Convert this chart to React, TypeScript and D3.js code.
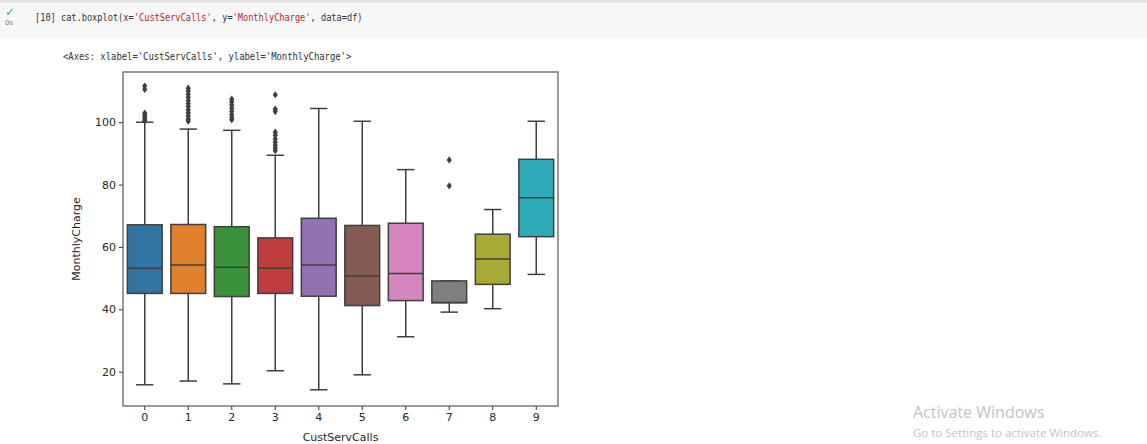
import React, { useRef, useEffect } from "react";
import * as d3 from "d3";

// one entry per CustServCalls group
const categories = ["0", "1", "2", "3", "4", "5", "6", "7", "8", "9"];
const q1 = [45.1, 45.1, 44.1, 45.1, 44.2, 41.2, 42.8, 42.1, 48.0, 63.3];
const medians = [53.2, 54.2, 53.5, 53.2, 54.2, 50.7, 51.5, 42.2, 56.1, 75.8];
const q3 = [67.1, 67.2, 66.5, 62.9, 69.2, 66.9, 67.6, 49.1, 64.1, 88.1];
const whiskLow = [15.8, 17.0, 16.1, 20.3, 14.2, 19.0, 31.2, 39.1, 40.2, 51.2];
const whiskHigh = [100.0, 97.8, 97.4, 89.4, 104.4, 100.3, 84.8, 49.1, 72.0, 100.3];
const outliers = [
  [111.6, 110.5, 102.9, 102.2, 101.6, 100.9, 100.4],
  [110.9, 110.0, 109.0, 108.0, 107.0, 106.0, 105.0, 104.0, 103.0, 102.0, 101.0, 100.3],
  [107.4, 106.5, 105.5, 104.5, 103.5, 102.5, 101.6, 100.8],
  [108.8, 104.2, 103.4, 96.8, 95.8, 94.6, 93.6, 92.6, 91.7, 90.9],
  [],
  [],
  [],
  [87.9, 79.6],
  [],
  [],
];
const yTicks = [20, 40, 60, 80, 100];
const palette = ["#3274a1", "#e1812c", "#3a923a", "#c03d3e", "#9372b2", "#845b53", "#d684bd", "#7f7f7f", "#a9aa35", "#2eabb8"];

const codeParts = [
  ["[10] cat.boxplot(x=", "#333"], ["'CustServCalls'", "#b22b31"], [", y=", "#333"],
  ["'MonthlyCharge'", "#b22b31"], [", data=df)", "#333"],
];
const reprLine = "<Axes: xlabel='CustServCalls', ylabel='MonthlyCharge'>";

const App = () => {
  const svgRef = useRef(null);

  useEffect(() => {
    document.body.style.margin = "0";
    const svg = d3.select(svgRef.current);
    svg.selectChildren().remove();

    const left = 123, right = 558, top = 72, bottom = 406;
    const line = "#3f3f3f";

    // notebook cell chrome
    svg.append("rect").attr("x", 0).attr("y", 0).attr("width", 1147).attr("height", 3).attr("fill", "#e4e4e4");
    svg.append("rect").attr("x", 0).attr("y", 3).attr("width", 1147).attr("height", 36).attr("fill", "#f7f7f7");
    svg.append("text").attr("x", 5).attr("y", 16).attr("font-size", 12).attr("fill", "#4caf50")
      .attr("font-family", "DejaVu Sans").text("✓");
    svg.append("text").attr("x", 5).attr("y", 25).attr("font-size", 7).attr("fill", "#777")
      .attr("font-family", "DejaVu Sans").text("0s");

    // monospace text, squeezed horizontally to match the narrow notebook font
    const charW = 5.2, sx = charW / (10 * 0.602);
    let col = 0;
    codeParts.forEach(([t, c]) => {
      svg.append("text").attr("transform", `translate(${35 + col * charW},21) scale(${sx},1)`)
        .attr("font-size", 10).attr("font-family", "DejaVu Sans Mono").attr("fill", c)
        .attr("xml:space", "preserve").style("white-space", "pre").text(t);
      col += t.length;
    });
    const sx2 = 5.35 / (10 * 0.602);
    svg.append("text").attr("transform", `translate(63,60) scale(${sx2},1)`)
      .attr("font-size", 10).attr("font-family", "DejaVu Sans Mono").attr("fill", "#333")
      .style("white-space", "pre").text(reprLine);

    const x = d3.scaleBand().domain(categories).range([left, right]);
    const y = d3.scaleLinear().domain([9, 116.1]).range([bottom, top]);
    const bw = x.bandwidth() * 0.8;
    const cap = x.bandwidth() * 0.4;

    const g = svg.append("g");
    categories.forEach((c, i) => {
      const cx = x(c) + x.bandwidth() / 2;
      // whiskers
      g.append("line").attr("x1", cx).attr("x2", cx).attr("y1", y(q1[i])).attr("y2", y(whiskLow[i]))
        .attr("stroke", line).attr("stroke-width", 1.5);
      g.append("line").attr("x1", cx).attr("x2", cx).attr("y1", y(q3[i])).attr("y2", y(whiskHigh[i]))
        .attr("stroke", line).attr("stroke-width", 1.5);
      [whiskLow[i], whiskHigh[i]].forEach(v => {
        g.append("line").attr("x1", cx - cap / 2).attr("x2", cx + cap / 2).attr("y1", y(v)).attr("y2", y(v))
          .attr("stroke", line).attr("stroke-width", 1.5);
      });
      g.append("rect").attr("x", cx - bw / 2).attr("width", bw)
        .attr("y", y(q3[i])).attr("height", y(q1[i]) - y(q3[i]))
        .attr("fill", palette[i]).attr("stroke", line).attr("stroke-width", 1.5);
      g.append("line").attr("x1", cx - bw / 2).attr("x2", cx + bw / 2)
        .attr("y1", y(medians[i])).attr("y2", y(medians[i]))
        .attr("stroke", line).attr("stroke-width", 1.5);
      outliers[i].forEach(v => {
        const py = y(v);
        g.append("path")
          .attr("d", `M${cx},${py - 3.6}L${cx + 2.6},${py}L${cx},${py + 3.6}L${cx - 2.6},${py}Z`)
          .attr("fill", line);
      });
    });

    // axes
    const xAxis = svg.append("g").attr("transform", `translate(0,${bottom})`)
      .call(d3.axisBottom(x).tickSize(4).tickPadding(3));
    const yAxis = svg.append("g").attr("transform", `translate(${left},0)`)
      .call(d3.axisLeft(y).tickValues(yTicks).tickSize(4).tickPadding(3));
    [xAxis, yAxis].forEach(a => {
      a.select(".domain").remove();
      a.selectAll("line").attr("stroke", "#333").attr("stroke-width", 1);
      a.selectAll("text").attr("font-family", "DejaVu Sans").attr("font-size", 11).attr("fill", "#262626");
    });

    svg.append("rect").attr("x", left).attr("y", top).attr("width", right - left).attr("height", bottom - top)
      .attr("fill", "none").attr("stroke", "#555").attr("stroke-width", 1.2);

    svg.append("text").attr("x", (left + right) / 2).attr("y", 441).attr("text-anchor", "middle")
      .attr("font-family", "DejaVu Sans").attr("font-size", 11).attr("fill", "#262626").text("CustServCalls");
    svg.append("text").attr("transform", `translate(80,${(top + bottom) / 2}) rotate(-90)`)
      .attr("text-anchor", "middle").attr("font-family", "DejaVu Sans").attr("font-size", 11)
      .attr("fill", "#262626").text("MonthlyCharge");

    // watermark
    svg.append("text").attr("x", 913).attr("y", 418).attr("font-family", "Open Sans").attr("font-size", 16)
      .attr("fill", "#c4c4c4").text("Activate Windows");
    svg.append("text").attr("x", 913).attr("y", 437).attr("font-family", "Open Sans").attr("font-size", 11.5)
      .attr("fill", "#c4c4c4").text("Go to Settings to activate Windows.");
  });

  return (
    <div>
      <svg ref={svgRef} width={1147} height={444} style={{ display: "block" }}></svg>
    </div>
  );
};

export default App;
